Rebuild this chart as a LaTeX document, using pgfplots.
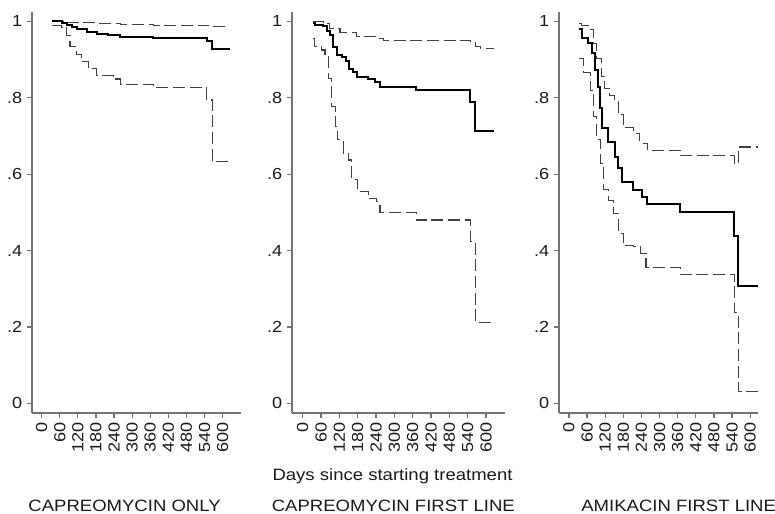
\documentclass[border=0pt]{standalone}
\usepackage{fontspec}
\setmainfont{Liberation Sans}[FakeStretch=1.13]
\usepackage{pgfplots}
\pgfplotsset{compat=1.18}

% common look of the three Kaplan-Meier panels (1 px of the reference = 0.75pt)
\pgfplotsset{
  kmpanel/.style={
    scale only axis,
    height=300.75pt,
    axis lines*=left,
    axis line style={black!55, line width=0.9pt, -},
    tick align=outside,
    major tick length=3.75pt,
    every tick/.style={black!55, line width=0.9pt},
    ymin=-0.0253, ymax=1.0244,
    ytick={0,0.2,0.4,0.6,0.8,1},
    yticklabels={0,.2,.4,.6,.8,1},
    xtick={0,60,...,600},
    /pgf/number format/assume math mode=true,
    ticklabel style={font=\fontsize{12}{12}\selectfont, black!90},
    x tick label style={rotate=90, anchor=east},
    clip=false,
  },
  km/.style={const plot, black, line width=1.5pt},
  ci/.style={const plot, black!75, line width=0.8pt, dash pattern=on 9pt off 3.5pt},
}

\begin{document}
\begin{tikzpicture}
\useasboundingbox (0,0) rectangle (581.25pt,-385.5pt);

% CAPREOMYCIN ONLY
\begin{axis}[kmpanel, anchor=south west, at={(24pt,-309.75pt)},
  width=156.75pt, xmin=-32, xmax=661]
  \addplot[ci] coordinates {(33,1.0) (80,0.998) (120,0.996) (180,0.994) (260,0.992)
    (370,0.990) (547,0.988) (565,0.987) (624,0.987)};
  \addplot[ci] coordinates {(33,0.988) (66,0.985) (83,0.963) (94,0.934) (116,0.912)
    (133,0.894) (155,0.876) (182,0.857) (238,0.849) (260,0.835) (370,0.826)
    (547,0.794) (565,0.634) (624,0.634)};
  \addplot[km] coordinates {(33,1.0) (66,0.995) (83,0.990) (100,0.985) (116,0.979)
    (150,0.972) (182,0.966) (220,0.963) (260,0.960) (370,0.957) (547,0.949)
    (565,0.928) (624,0.928)};
\end{axis}

% CAPREOMYCIN FIRST LINE
\begin{axis}[kmpanel, anchor=south west, at={(219pt,-309.75pt)},
  width=159.75pt, xmin=-35, xmax=662]
  \addplot[ci] coordinates {(33,1.0) (68,0.994) (89,0.980) (122,0.971) (177,0.960)
    (242,0.954) (264,0.950) (548,0.946) (565,0.934) (581,0.929) (626,0.929)};
  \addplot[ci] coordinates {(33,0.955) (40,0.934) (62,0.925) (73,0.907) (84,0.850)
    (95,0.776) (106,0.724) (113,0.690) (133,0.655) (149,0.637) (160,0.585)
    (180,0.554) (215,0.535) (242,0.528) (253,0.500) (371,0.480) (548,0.423)
    (565,0.211) (626,0.211)};
  \addplot[km] coordinates {(33,0.996) (40,0.990) (68,0.987) (79,0.975) (89,0.963)
    (100,0.934) (111,0.912) (128,0.907) (142,0.896) (153,0.876) (166,0.867)
    (179,0.855) (215,0.848) (237,0.842) (253,0.829) (371,0.820) (548,0.790)
    (565,0.713) (626,0.713)};
\end{axis}

% AMIKACIN FIRST LINE
\begin{axis}[kmpanel, anchor=south west, at={(419.25pt,-309.75pt)},
  width=149.25pt, xmin=-33, xmax=626]
  \addplot[ci] coordinates {(33,0.994) (42,0.988) (70,0.979) (81,0.943) (92,0.903)
    (107,0.855) (118,0.825) (134,0.807) (152,0.794) (163,0.755) (180,0.721)
    (213,0.707) (235,0.681) (261,0.662) (368,0.648) (547,0.628) (561,0.671)
    (625,0.671)};
  \addplot[ci] coordinates {(33,0.903) (47,0.867) (70,0.820) (81,0.751) (92,0.690)
    (103,0.629) (114,0.559) (130,0.532) (147,0.497) (163,0.445) (180,0.414)
    (213,0.410) (238,0.393) (255,0.356) (368,0.338) (547,0.238) (561,0.032)
    (625,0.032)};
  \addplot[km] coordinates {(33,0.979) (42,0.956) (62,0.943) (75,0.917) (86,0.873)
    (95,0.829) (103,0.773) (110,0.721) (130,0.685) (152,0.646) (163,0.615)
    (175,0.580) (213,0.559) (241,0.541) (257,0.522) (368,0.502) (547,0.438)
    (561,0.308) (625,0.308)};
\end{axis}

\node[anchor=base, font=\fontsize{12.3}{13}\selectfont, black!90]
  at (294.4pt,-360pt) {Days since starting treatment};
\node[anchor=base, font=\fontsize{12.3}{13}\selectfont, black!90]
  at (93.4pt,-383.3pt) {CAPREOMYCIN ONLY};
\node[anchor=base, font=\fontsize{12.3}{13}\selectfont, black!90]
  at (295pt,-383.3pt) {CAPREOMYCIN FIRST LINE};
\node[anchor=base, font=\fontsize{12.3}{13}\selectfont, black!90]
  at (509pt,-383.3pt) {AMIKACIN FIRST LINE};
\end{tikzpicture}
\end{document}
